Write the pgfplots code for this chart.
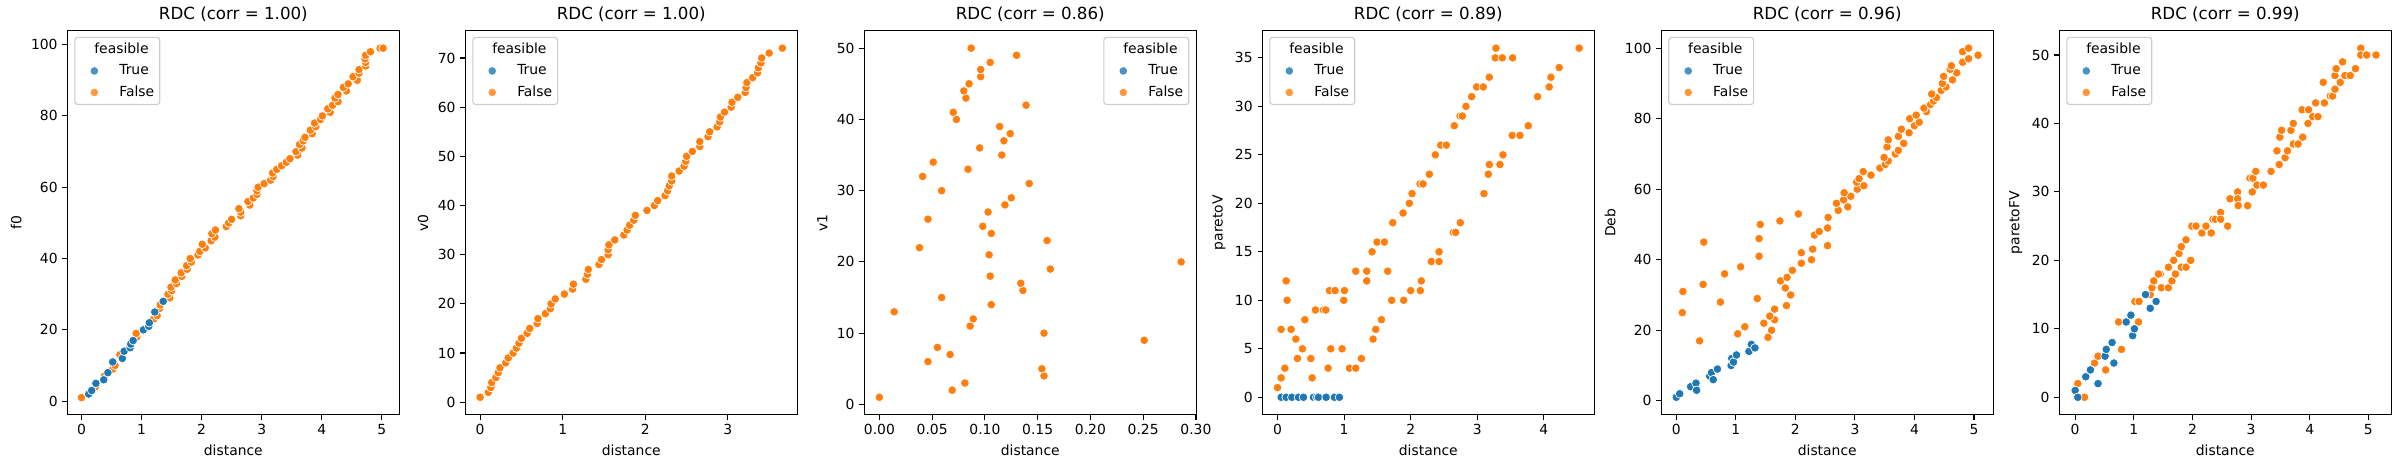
\documentclass[border=0pt]{standalone}
\usepackage{pgfplots}
\pgfplotsset{compat=1.18}
\usepackage{fontspec}
\setmainfont{DejaVu Sans}
\definecolor{tblue}{RGB}{31,119,180}
\definecolor{torange}{RGB}{255,127,14}
\definecolor{lgray}{RGB}{204,204,204}
\pgfplotsset{
  mk/.style={only marks, mark=*, mark size=3.1pt, color=#1,
    mark options={draw=white, fill=#1, line width=0.5pt},
    legend image code/.code={\path[draw=none, fill=none] (0pt,-3pt) rectangle (20pt,3pt); \draw[##1, draw=none, mark indices={2}] plot coordinates {(0pt,0pt) (10pt,0pt) (20pt,0pt)};}},
  rdc/.style={
    scale only axis, width=239pt, height=276.5pt,
    anchor=north west,
    axis line style={line width=0.8pt},
    every tick/.style={line width=0.8pt, black},
    tick align=outside, major tick length=3.5pt,
    tick pos=left,
    scaled ticks=false,
    tick label style={font=\fontsize{10}{12}\selectfont},
    label style={font=\fontsize{10}{12}\selectfont},
    every axis title shift=0pt,
    title style={font=\fontsize{12}{14}\selectfont, inner sep=0pt, at={(0.5,1)}, anchor=south, yshift=6pt},
    xlabel={distance},
    /pgf/number format/assume math mode=true,
    legend cell align=left,
    legend style={at={(0.021,0.984)}, anchor=north west, draw=lgray, line width=0.8pt,
      rounded corners=2pt, fill=white, fill opacity=0.8, text opacity=1,
      font=\fontsize{10}{12}\selectfont,
      nodes={inner sep=0pt, text height=7.3pt, text depth=2pt},
      row sep=6.2pt, column sep=8pt, inner xsep=4pt, inner ysep=4pt},
  },
}
\newcommand{\leg}{%
  \addlegendimage{empty legend}\addlegendentry{\hspace*{-18pt}feasible}
  \addlegendimage{mk=tblue}\addlegendentry{True}
  \addlegendimage{mk=torange}\addlegendentry{False}}
\begin{document}
\begin{tikzpicture}
\useasboundingbox (0,0) rectangle (1728.72pt,-337.68pt);
% ---------------- panel 1
\begin{axis}[rdc, at={(48.5pt,-22.1pt)}, title={RDC (corr = 1.00)}, ylabel={f0},
  xmin=-0.235, xmax=5.29, ymin=-3.8, ymax=103.9, xtick={0,1,2,3,4,5}, ytick={0,20,40,60,80,100}]
\leg
\addplot[mk=torange, forget plot] table {
0 1
0.23 4
0.38 7
0.52 9
0.56 10
0.64 13
0.92 18
0.91 19
1.2 23
1.26 24
1.3 26
1.31 27
1.47 29
1.44 30
1.5 31
1.49 32
1.58 33
1.56 34
1.67 35
1.66 36
1.76 37
1.75 38
1.83 39
1.81 40
1.94 41
1.97 42
2.06 43
2.01 44
2.16 45
2.22 46
2.17 47
2.23 48
2.41 49
2.45 50
2.5 51
2.65 52
2.65 53
2.62 54
2.8 55
2.77 56
2.86 57
2.92 58
2.92 59
2.94 60
3.04 61
3.15 62
3.19 63
3.18 64
3.25 65
3.33 66
3.41 67
3.47 68
3.6 69
3.57 70
3.67 71
3.63 72
3.69 73
3.72 74
3.84 75
3.81 76
3.9 77
3.88 78
3.98 79
4.01 80
4.14 81
4.1 82
4.18 83
4.27 84
4.22 85
4.27 86
4.41 87
4.36 88
4.44 89
4.59 90
4.52 91
4.62 92
4.62 93
4.73 94
4.73 95
4.72 96
4.73 97
4.81 98
4.97 99
5.02 99
};
\addplot[mk=tblue, forget plot] table {
0.12 2
0.17 3
0.24 5
0.37 6
0.44 8
0.52 11
0.68 12
0.71 14
0.81 15
0.82 16
0.86 17
1.03 20
1.12 21
1.13 22
1.22 25
1.36 28
};
\end{axis}
% ---------------- panel 2
\begin{axis}[rdc, at={(335.0pt,-22.1pt)}, title={RDC (corr = 1.00)}, ylabel={v0},
  xmin=-0.18, xmax=3.84, ymin=-2.55, ymax=75.55, xtick={0,1,2,3}, ytick={0,10,20,30,40,50,60,70}]
\leg
\addplot[mk=torange, forget plot] table {
0 1
0.1 2
0.13 3
0.14 4
0.19 5
0.22 6
0.24 7
0.31 8
0.34 9
0.4 10
0.44 11
0.47 12
0.5 13
0.57 14
0.6 15
0.69 16
0.7 17
0.79 18
0.85 19
0.86 20
0.91 21
1.02 22
1.12 23
1.13 24
1.28 25
1.3 26
1.31 27
1.44 28
1.47 29
1.55 30
1.55 31
1.56 32
1.63 33
1.74 34
1.78 35
1.81 36
1.86 37
1.88 38
2.02 39
2.11 40
2.15 41
2.24 42
2.27 43
2.29 44
2.32 45
2.32 46
2.41 47
2.47 48
2.49 49
2.5 50
2.57 51
2.66 52
2.66 53
2.76 54
2.78 55
2.87 56
2.9 57
2.91 58
2.96 59
3.04 60
3.05 61
3.12 62
3.21 63
3.22 64
3.23 65
3.3 66
3.36 67
3.37 68
3.4 69
3.41 70
3.5 71
3.66 72
};
\end{axis}
% ---------------- panel 3
\begin{axis}[rdc, at={(622.3pt,-22.1pt)}, title={RDC (corr = 0.86)}, ylabel={v1},
  xmin=-0.0143, xmax=0.3003, ymin=-1.45, ymax=52.45,
  xtick={0,0.05,0.1,0.15,0.2,0.25,0.3}, ytick={0,10,20,30,40,50},
  xticklabel style={/pgf/number format/.cd, fixed, fixed zerofill, precision=2},
  legend style={at={(0.979,0.984)}, anchor=north east}]
\leg
\addplot[mk=torange, forget plot] table {
0.0 1
0.069 2
0.081 3
0.156 4
0.154 5
0.046 6
0.067 7
0.055 8
0.251 9
0.156 10
0.086 11
0.089 12
0.014 13
0.106 14
0.059 15
0.136 16
0.134 17
0.105 18
0.162 19
0.286 20
0.104 21
0.038 22
0.159 23
0.106 24
0.098 25
0.046 26
0.103 27
0.119 28
0.125 29
0.059 30
0.142 31
0.041 32
0.084 33
0.051 34
0.116 35
0.095 36
0.118 37
0.124 38
0.114 39
0.073 40
0.07 41
0.139 42
0.082 43
0.08 44
0.085 45
0.096 46
0.096 47
0.105 48
0.13 49
0.087 50
};
\end{axis}
% ---------------- panel 4
\begin{axis}[rdc, at={(908.9pt,-22.1pt)}, title={RDC (corr = 0.89)}, ylabel={paretoV},
  xmin=-0.227, xmax=4.757, ymin=-1.8, ymax=37.8, xtick={0,1,2,3,4}, ytick={0,5,10,15,20,25,30,35}]
\leg
\addplot[mk=torange, forget plot] table {
0 1
0.055 2
0.11 3
0.3 4
0.5 4
0.375 5
0.97 5
0.8 5
0.275 6
0.055 7
0.205 7
0.41 8
0.57 9
0.69 9
0.725 9
0.145 10
0.995 10
0.13 12
0.78 11
0.865 11
1.005 11
0.52 2
0.76 3
1.08 3
1.175 3
1.26 4
1.175 13
1.34 13
1.34 12
1.42 15
1.495 16
1.605 16
1.655 13
1.73 18
1.715 10
1.435 6
1.475 7
1.56 8
1.895 10
1.885 19
1.98 20
2.02 21
2.0 11
2.145 11
2.16 12
2.14 22
2.185 22
2.28 23
2.31 14
2.425 14
2.425 15
2.37 25
2.45 26
2.535 26
2.655 28
2.64 17
2.675 17
2.745 18
2.74 29
2.775 29
2.83 30
2.915 31
2.99 32
3.09 32
3.18 33
3.1 21
3.165 23
3.18 24
3.34 24
3.385 25
3.27 35
3.28 36
3.375 35
3.53 35
3.525 27
3.64 27
3.765 28
3.905 31
4.08 32
4.105 33
4.23 34
4.53 36
};
\addplot[mk=tblue, forget plot] table {
0.055 0
0.13 0
0.215 0
0.315 0
0.39 0
0.54 0
0.59 0
0.615 0
0.73 0
0.855 0
0.93 0
};
\end{axis}
% ---------------- panel 5
\begin{axis}[rdc, at={(1196.1pt,-22.1pt)}, title={RDC (corr = 0.96)}, ylabel={Deb},
  xmin=-0.2535, xmax=5.3235, ymin=-3.95, ymax=104.95, xtick={0,1,2,3,4,5}, ytick={0,20,40,60,80,100}]
\leg
\addplot[mk=torange, forget plot] table {
0.39 17
1.03 19
1.15 21
1.54 18
1.6 20
1.47 22
1.65 23
1.57 24
0.1 25
1.65 26
1.85 27
0.74 28
1.36 29
1.92 30
0.11 31
1.83 32
0.45 33
1.75 34
1.86 35
0.81 36
1.95 37
1.08 38
2.1 39
2.27 40
1.39 41
2.1 42
2.29 43
2.54 44
0.46 45
1.39 46
2.32 47
2.4 48
2.54 49
1.41 50
1.74 51
2.55 52
2.05 53
2.72 54
2.69 56
2.88 55
2.81 57
2.93 58
2.82 59
3.04 60
3.15 61
3.03 62
3.07 63
3.14 65
3.27 64
3.42 66
3.51 67
3.56 68
3.49 69
3.68 70
3.73 71
3.54 72
3.82 73
3.56 74
3.73 75
3.91 76
3.78 77
4.0 78
4.08 79
3.92 80
4.03 81
4.2 82
4.16 83
4.27 84
4.32 85
4.37 86
4.29 87
4.45 88
4.53 89
4.47 90
4.64 91
4.49 92
4.71 93
4.6 94
4.62 95
4.81 96
4.91 97
5.07 98
4.81 99
4.91 100
};
\addplot[mk=tblue, forget plot] table {
0 1
0.056 2
0.24 4
0.33 5
0.34 3
0.56 7
0.59 8
0.62 6
0.69 9
0.92 10
0.93 12
0.96 11
1.01 13
1.22 14
1.26 16
1.32 15
};
\end{axis}
% ---------------- panel 6
\begin{axis}[rdc, at={(1482.7pt,-22.1pt)}, title={RDC (corr = 0.99)}, ylabel={paretoFV},
  xmin=-0.27, xmax=5.39, ymin=-2.55, ymax=53.55, xtick={0,1,2,3,4,5}, ytick={0,10,20,30,40,50}]
\leg
\addplot[mk=torange, forget plot] table {
0.045 2
0.16 0
0.33 5
0.39 6
0.52 4
0.74 11
0.79 7
1.02 14
1.09 14
1.08 11
1.28 15
1.31 16
1.34 17
1.45 18
1.42 18
1.47 16
1.59 16
1.59 19
1.65 17
1.68 20
1.71 18
1.77 21
1.81 22
1.81 19
1.89 23
1.89 19
1.97 20
1.99 25
2.06 25
2.16 24
2.23 25
2.32 24
2.35 26
2.39 26
2.48 27
2.48 26
2.6 25
2.64 29
2.77 30
2.77 29
2.78 28
2.94 28
2.98 32
3.03 32
3.02 30
3.08 33
3.1 31
3.21 31
3.34 33
3.44 36
3.48 34
3.49 38
3.52 39
3.58 35
3.62 36
3.68 39
3.72 40
3.72 37
3.8 37
3.87 42
3.88 38
3.98 42
3.97 40
4.05 41
4.1 43
4.14 41
4.23 46
4.25 43
4.35 44
4.39 44
4.43 47
4.43 45
4.45 48
4.52 46
4.56 49
4.6 47
4.69 47
4.78 48
4.87 51
4.87 50
4.97 50
5.13 50
};
\addplot[mk=tblue, forget plot] table {
0 1
0.045 0
0.18 3
0.26 4
0.39 2
0.51 6
0.53 7
0.63 8
0.66 5
0.87 11
0.95 12
0.98 9
1.01 10
1.2 15
1.28 13
1.38 14
};
\end{axis}
\end{tikzpicture}
\end{document}
